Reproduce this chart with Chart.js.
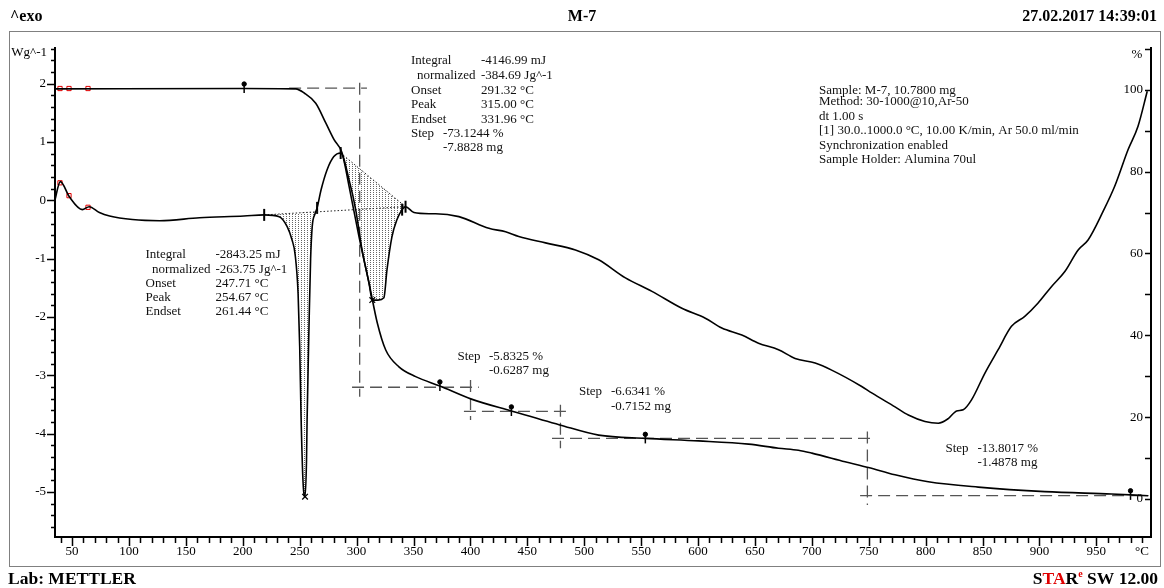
<!DOCTYPE html>
<html>
<head>
<meta charset="utf-8">
<script src="https://cdn.jsdelivr.net/npm/chart.js@4.4.1/dist/chart.umd.min.js"></script>
<style>
  html, body { margin: 0; padding: 0; background: #fff; }
  #wrap { width: 1164px; height: 588px; position: relative; }
</style>
</head>
<body>
<div id="wrap"><canvas id="tga-chart"></canvas></div>
<script>
// DSC curve, Wg^-1 against temperature (°C)
const dscT = [34.5, 39.7, 47.6, 59, 65, 74, 83, 103, 127, 162, 201, 218.8, 232, 239, 243.3, 246, 248.6, 250, 251.2, 253, 254.7, 256, 256.5, 258.3, 259.6, 261, 263.5, 265.3, 268.8, 274, 280, 286, 293.4, 299.2, 304.8, 310.9, 313.8, 318.8, 324, 326.7, 331, 335.5, 340, 343, 350.4, 363.6, 369.4, 389.9, 416.2, 430.9, 442.5, 466, 492.3, 512.7, 536.2, 559.5, 585.8, 606.4, 620.9, 638.5, 653.1, 670.7, 685.3, 702.9, 717.4, 743.8, 752.6, 773.1, 784.8, 799.4, 811.1, 819.9, 827.2, 833, 840.3, 852.1, 863.7, 875.4, 887.1, 898.8, 910.5, 922.3, 934, 942.7, 955.9, 966.1, 977.9, 986.6, 994.7];
const dscV = [-0.03, 0.32, 0.06, -0.16, -0.11, -0.21, -0.27, -0.33, -0.35, -0.30, -0.27, -0.25, -0.28, -0.45, -0.68, -0.93, -1.6, -2.5, -3.7, -4.85, -5.08, -4.45, -3.76, -2.05, -1.0, -0.45, -0.23, -0.13, 0.18, 0.52, 0.75, 0.81, 0.35, -0.16, -0.85, -1.42, -1.71, -1.71, -1.67, -1.19, -0.63, -0.33, -0.16, -0.11, -0.21, -0.23, -0.23, -0.28, -0.48, -0.54, -0.62, -0.73, -0.85, -1.02, -1.33, -1.56, -1.85, -2.02, -2.19, -2.31, -2.45, -2.56, -2.71, -2.79, -2.91, -3.19, -3.30, -3.54, -3.68, -3.79, -3.82, -3.74, -3.61, -3.59, -3.42, -2.96, -2.56, -2.16, -1.99, -1.76, -1.48, -1.22, -0.85, -0.68, -0.19, 0.24, 0.87, 1.27, 1.87];

// TGA curve, % against temperature
const tgaT = [34.5, 201.2, 246.6, 253.9, 264.1, 272.9, 280.2, 287.2, 293.4, 302.1, 310.9, 318.2, 325.6, 337.2, 351.9, 373.2, 400.9, 436, 478.5, 512.7, 553.7, 600.5, 644.4, 670.7, 688.2, 700, 729.2, 749.7, 773.1, 802.3, 846.2, 904.7, 963.2, 995.4];
const tgaP = [100.2, 100.3, 100.2, 99.2, 96.7, 91.9, 87.8, 84.6, 76.4, 64.1, 52.8, 43, 36.4, 32.3, 29.9, 27.6, 24.4, 21.5, 18.1, 15.6, 14.8, 14.2, 13.4, 12.4, 11.9, 11.2, 9.1, 7.7, 5.9, 4.2, 2.9, 1.8, 1.2, 0.8];

// integration baselines (DSC)
const base1T = [218.8, 343];
const base1V = [-0.25, -0.11];
const base2T = [286, 343];
const base2V = [0.81, -0.11];

// TGA step evaluation lines
const stepVx = [302.7, 400.1, 479.1, 748.8];
const stepVtop = [101.7, 29.1, 23, 16.5];
const stepVbot = [25.0, 19.3, 12.4, -1.5];
const stepHy = [100.4, 27.3, 21.4, 14.8, 0.8];
const stepHx0 = [240.7, 296, 394.3, 471.7, 742.4];
const stepHx1 = [309.1, 407.4, 486.4, 755.5, 996];

// evaluation markers
const tgaMarkT = [201.2, 373.2, 436, 553.7, 980];
const tgaMarkP = [100.4, 27.6, 21.5, 14.8, 1.0];
const dscMarkT = [218.8, 265.3, 286, 340, 343];
const dscMarkV = [-0.25, -0.13, 0.81, -0.16, -0.11];
const peakT = [254.7, 313.8];
const peakV = [-5.08, -1.71];
const redT = [39.4, 47.3, 64];
const redTga = [100.3, 100.3, 100.3];
const redDsc = [0.3, 0.08, -0.12];

// tick labels
const xLabels = [50, 100, 150, 200, 250, 300, 350, 400, 450, 500, 550, 600, 650, 700, 750, 800, 850, 900, 950];
const wLabels = [-5, -4, -3, -2, -1, 0, 1, 2];
const pLabels = [0, 20, 40, 60, 80, 100];

function pts(xs, ys) {
  return xs.map((v, i) => ({ x: v, y: ys[i] }));
}
function between(xs, ys, a, b) {
  return pts(xs, ys).filter(p => p.x >= a && p.x <= b);
}
function steps(from, to, step) {
  const out = [];
  const n = Math.round((to - from) / step);
  for (let i = 0; i <= n; i++) out.push({ value: Math.round((from + i * step) * 1000) / 1000 });
  return out;
}

const stepPts = [];
stepVx.forEach((v, i) => {
  stepPts.push({ x: v, y: stepVtop[i] }, { x: v, y: stepVbot[i] }, { x: v, y: null });
});
stepHy.forEach((v, i) => {
  stepPts.push({ x: stepHx0[i], y: v }, { x: stepHx1[i], y: v }, { x: stepHx1[i], y: null });
});

// dotted vertical hatching
const pc = document.createElement('canvas');
pc.width = 3; pc.height = 2;
const pctx = pc.getContext('2d');
pctx.fillStyle = 'rgba(0,0,0,0.6)';
pctx.fillRect(1, 0, 1, 1);
const hatch = pctx.createPattern(pc, 'repeat');

const notes = [
  ['Integral', 411, 61], ['-4146.99 mJ', 481, 61],
  ['normalized', 417, 76], ['-384.69 Jg^-1', 481, 76],
  ['Onset', 411, 91], ['291.32 °C', 481, 91],
  ['Peak', 411, 105], ['315.00 °C', 481, 105],
  ['Endset', 411, 119.5], ['331.96 °C', 481, 119.5],
  ['Step', 411, 133.5], ['-73.1244 %', 443, 133.5],
  ['-7.8828 mg', 443, 148],
  ['Integral', 145.5, 255], ['-2843.25 mJ', 215.5, 255],
  ['normalized', 152, 269.5], ['-263.75 Jg^-1', 215.5, 269.5],
  ['Onset', 145.5, 283.5], ['247.71 °C', 215.5, 283.5],
  ['Peak', 145.5, 297.5], ['254.67 °C', 215.5, 297.5],
  ['Endset', 145.5, 311.5], ['261.44 °C', 215.5, 311.5],
  ['Sample: M-7, 10.7800 mg', 819, 90.5],
  ['Method: 30-1000@10,Ar-50', 819, 101.5],
  ['dt 1.00 s', 819, 116.5],
  ['[1] 30.0..1000.0 °C, 10.00 K/min, Ar 50.0 ml/min', 819, 131],
  ['Synchronization enabled', 819, 145.5],
  ['Sample Holder: Alumina 70ul', 819, 160],
  ['Step', 457.5, 356.5], ['-5.8325 %', 489, 356.5], ['-0.6287 mg', 489, 371],
  ['Step', 579, 392], ['-6.6341 %', 611, 392], ['-0.7152 mg', 611, 406.5],
  ['Step', 945.5, 449], ['-13.8017 %', 977.5, 449], ['-1.4878 mg', 977.5, 463]
];

const serif = '"Liberation Serif", "DejaVu Serif", serif';
Chart.defaults.font.family = serif;
Chart.defaults.color = '#000';

const isInt = v => Math.abs(v - Math.round(v)) < 1e-6;

const pageDecor = {
  id: 'pageDecor',
  beforeDraw(chart) {
    const ctx = chart.ctx;
    ctx.save();
    ctx.fillStyle = '#fff';
    ctx.fillRect(0, 0, chart.width, chart.height);
    ctx.strokeStyle = '#808080';
    ctx.lineWidth = 1;
    ctx.strokeRect(9.5, 31.5, 1151, 535);
    ctx.restore();
  },
  afterDraw(chart) {
    const ctx = chart.ctx;
    const { x, y, y2 } = chart.scales;
    ctx.save();
    // tick marks
    ctx.strokeStyle = '#000';
    ctx.lineWidth = 1.5;
    ctx.beginPath();
    x.ticks.forEach(t => {
      const px = Math.round(x.getPixelForValue(t.value)) + 0.5;
      const len = t.value % 50 === 0 ? 9 : 6;
      ctx.moveTo(px, x.top); ctx.lineTo(px, x.top + len);
    });
    y.ticks.forEach(t => {
      const py = Math.round(y.getPixelForValue(t.value)) + 0.5;
      const len = isInt(t.value) ? 8 : 4;
      ctx.moveTo(y.right, py); ctx.lineTo(y.right - len, py);
    });
    y2.ticks.forEach(t => {
      const py = Math.round(y2.getPixelForValue(t.value)) + 0.5;
      ctx.moveTo(y2.left, py); ctx.lineTo(y2.left - 6, py);
    });
    ctx.stroke();

    // right axis labels sit inside the plot
    ctx.fillStyle = '#000';
    ctx.font = '13px ' + serif;
    ctx.textBaseline = 'middle';
    ctx.textAlign = 'right';
    y2.ticks.forEach(t => {
      if (pLabels.includes(t.value)) ctx.fillText(String(t.value), y2.left - 8, y2.getPixelForValue(t.value));
    });

    // axis unit labels
    ctx.fillText('Wg^-1', 47, 53);
    ctx.textAlign = 'center';
    ctx.fillText('%', 1137, 55);

    // annotations
    ctx.textAlign = 'left';
    ctx.fillStyle = '#111';
    notes.forEach(n => ctx.fillText(n[0], n[1], n[2]));

    // header
    ctx.fillStyle = '#000';
    ctx.font = 'bold 16px ' + serif;
    ctx.textAlign = 'left';
    ctx.fillText('^exo', 10, 17);
    ctx.textAlign = 'center';
    ctx.fillText('M-7', 582, 17);
    ctx.textAlign = 'right';
    ctx.fillText('27.02.2017 14:39:01', 1157, 17);

    // footer
    ctx.font = 'bold 17.5px ' + serif;
    ctx.textAlign = 'left';
    ctx.fillText('Lab: METTLER', 8, 579);
    const parts = [['S', '#000', 17.5], ['TA', '#e00000', 17.5], ['R', '#000', 17.5], ['e', '#e00000', 10], [' SW 12.00', '#000', 17.5]];
    let w = 0;
    parts.forEach(p => { ctx.font = 'bold ' + p[2] + 'px ' + serif; w += ctx.measureText(p[0]).width; });
    let cx = 1158 - w;
    parts.forEach(p => {
      ctx.font = 'bold ' + p[2] + 'px ' + serif;
      ctx.fillStyle = p[1];
      ctx.fillText(p[0], cx, p[2] < 12 ? 574 : 579);
      cx += ctx.measureText(p[0]).width;
    });
    ctx.restore();
  }
};

new Chart(document.getElementById('tga-chart'), {
  type: 'line',
  data: {
    datasets: [
      { data: pts(dscT, dscV), yAxisID: 'y', borderColor: '#000', borderWidth: 1.6, pointRadius: 0, cubicInterpolationMode: 'monotone', fill: false },
      { data: pts(tgaT, tgaP), yAxisID: 'y2', borderColor: '#000', borderWidth: 1.6, pointRadius: 0, cubicInterpolationMode: 'monotone', fill: false },
      { data: pts(base1T, base1V), yAxisID: 'y', borderColor: '#222', borderWidth: 1, borderDash: [1.5, 2], pointRadius: 0, fill: false },
      { data: pts(base2T, base2V), yAxisID: 'y', borderColor: '#222', borderWidth: 1, borderDash: [1.5, 2], pointRadius: 0, fill: false },
      { data: between(dscT, dscV, 218.8, 265.3), yAxisID: 'y', borderWidth: 0, borderColor: 'rgba(0,0,0,0)', pointRadius: 0, cubicInterpolationMode: 'monotone', backgroundColor: hatch, fill: 2 },
      { data: between(dscT, dscV, 286, 343), yAxisID: 'y', borderWidth: 0, borderColor: 'rgba(0,0,0,0)', pointRadius: 0, cubicInterpolationMode: 'monotone', backgroundColor: hatch, fill: 3 },
      { data: stepPts, yAxisID: 'y2', borderColor: '#555', borderWidth: 1.3, borderDash: [12, 6], pointRadius: 0, spanGaps: false, fill: false },
      { data: pts(tgaMarkT, tgaMarkP), yAxisID: 'y2', showLine: false, pointStyle: 'line', rotation: 90, pointRadius: 5, borderColor: '#000', borderWidth: 1.5 },
      { data: pts(tgaMarkT, tgaMarkP.map(v => v + 1)), yAxisID: 'y2', showLine: false, pointStyle: 'circle', pointRadius: 2.2, backgroundColor: '#000', borderColor: '#000' },
      { data: pts(dscMarkT, dscMarkV), yAxisID: 'y', showLine: false, pointStyle: 'line', rotation: 90, pointRadius: 6, borderColor: '#000', borderWidth: 2 },
      { data: pts(peakT, peakV), yAxisID: 'y', showLine: false, pointStyle: 'crossRot', pointRadius: 4, borderColor: '#000', borderWidth: 1.3 },
      { data: pts(redT, redTga), yAxisID: 'y2', showLine: false, pointStyle: 'rect', pointRadius: 3, borderColor: '#e00000', backgroundColor: 'rgba(0,0,0,0)', borderWidth: 1 },
      { data: pts(redT, redDsc), yAxisID: 'y', showLine: false, pointStyle: 'rect', pointRadius: 3, borderColor: '#e00000', backgroundColor: 'rgba(0,0,0,0)', borderWidth: 1 }
    ]
  },
  options: {
    responsive: true,
    maintainAspectRatio: false,
    animation: false,
    layout: { padding: { top: 48, left: 0, right: 0, bottom: 0 } },
    plugins: { legend: { display: false }, tooltip: { enabled: false }, filler: { propagate: false } },
    scales: {
      x: {
        type: 'linear', min: 35, max: 998,
        afterFit: s => { s.height = 51; },
        afterBuildTicks: s => { s.ticks = steps(40, 990, 10); },
        ticks: {
          autoSkip: false, maxRotation: 0, padding: 7, font: { size: 13 },
          callback: v => xLabels.includes(v) ? String(v) : (v === 990 ? '°C' : '')
        },
        grid: { display: false, drawTicks: false },
        border: { display: true, color: '#000', width: 2 }
      },
      y: {
        position: 'left', min: -5.77, max: 2.61,
        afterFit: s => { s.width = 55; },
        afterBuildTicks: s => { s.ticks = steps(-5.6, 2.6, 0.2); },
        ticks: {
          autoSkip: false, padding: 9, font: { size: 13 },
          callback: v => (isInt(v) && wLabels.includes(Math.round(v))) ? String(Math.round(v)) : ''
        },
        grid: { display: false, drawTicks: false },
        border: { display: true, color: '#000', width: 2 }
      },
      y2: {
        position: 'right', min: -9.29, max: 110.2,
        afterFit: s => { s.width = 13; },
        afterBuildTicks: s => { s.ticks = steps(0, 110, 10); },
        ticks: { display: false },
        grid: { display: false, drawTicks: false },
        border: { display: true, color: '#000', width: 2 }
      }
    }
  },
  plugins: [pageDecor]
});
</script>
</body>
</html>
